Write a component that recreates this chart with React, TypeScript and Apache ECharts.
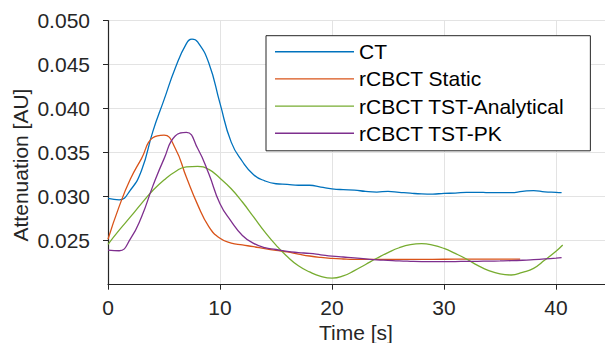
import React, { useEffect, useRef } from "react";
import * as echarts from "echarts";

const seriesNames = ["CT", "rCBCT Static", "rCBCT TST-Analytical", "rCBCT TST-PK"];
const seriesColors = ["#0072BD", "#D95319", "#77AC30", "#7E2F8E"];

const ctTime = [0, 1, 2, 3, 4, 5, 6, 7, 7.5, 8, 9, 10, 11, 12, 13, 14, 15, 16, 17, 18, 19, 20, 21, 22, 23, 24, 25, 26, 27, 28, 29, 30, 31, 32, 33, 34, 35, 36, 37, 38, 39, 40, 40.5];
const ctValues = [0.0298, 0.02965, 0.03075, 0.033, 0.0374, 0.041, 0.0446, 0.0474, 0.0479, 0.0476, 0.0452, 0.0406, 0.0362, 0.0340, 0.0325, 0.0318, 0.03147, 0.0314, 0.0313, 0.0313, 0.0311, 0.0309, 0.0308, 0.03075, 0.0306, 0.03053, 0.0306, 0.0305, 0.0304, 0.03032, 0.0303, 0.03038, 0.0304, 0.0305, 0.0305, 0.03046, 0.03046, 0.03046, 0.0306, 0.0307, 0.03055, 0.0305, 0.03046];

const staticTime = [0, 1, 2, 3, 4, 5, 6, 7, 8, 9, 10, 11, 12, 13, 14, 15, 16, 17, 18, 19, 20, 21, 22, 24, 26, 28, 30, 32, 34, 36, 36.8];
const staticValues = [0.02516, 0.0289, 0.032, 0.03436, 0.0367, 0.037, 0.0355, 0.0322, 0.0291, 0.0266, 0.02527, 0.02473, 0.02452, 0.02432, 0.0241, 0.0239, 0.02372, 0.02348, 0.02326, 0.0231, 0.02299, 0.02292, 0.02288, 0.02287, 0.02287, 0.02288, 0.02289, 0.0229, 0.0229, 0.0229, 0.0229];

const analyticalTime = [0, 1, 2, 3, 4, 5, 6, 7, 8, 9, 10, 11, 12, 13, 14, 15, 16, 17, 18, 19, 20, 21, 22, 23, 24, 25, 26, 27, 28, 29, 30, 31, 32, 33, 34, 35, 36, 37, 38, 39, 40, 40.6];
const analyticalValues = [0.02459, 0.0262, 0.0277, 0.02925, 0.0307, 0.0319, 0.03284, 0.0334, 0.03345, 0.0331, 0.0321, 0.0309, 0.0294, 0.0277, 0.026, 0.0245, 0.0232, 0.02215, 0.02145, 0.02095, 0.02075, 0.021, 0.0216, 0.0223, 0.023, 0.02365, 0.0242, 0.02455, 0.02466, 0.0245, 0.02412, 0.02355, 0.02292, 0.0222, 0.0216, 0.02122, 0.0211, 0.0214, 0.02186, 0.0228, 0.0238, 0.02451];

const pkTime = [0, 1, 2, 3, 4, 5, 6, 7, 8, 9, 10, 11, 12, 13, 14, 15, 16, 17, 18, 19, 20, 21, 22, 23, 24, 25, 26, 27, 28, 29, 30, 31, 32, 33, 34, 35, 36, 37, 38, 39, 40, 40.5];
const pkValues = [0.02394, 0.02386, 0.0252, 0.02773, 0.0312, 0.0343, 0.0369, 0.0373, 0.0355, 0.0326, 0.0292, 0.0272, 0.0256, 0.0247, 0.0242, 0.024, 0.02378, 0.02365, 0.02355, 0.0234, 0.02325, 0.02315, 0.02305, 0.02293, 0.02282, 0.02276, 0.0227, 0.02266, 0.02263, 0.02262, 0.02262, 0.02263, 0.02265, 0.02266, 0.02268, 0.0227, 0.02273, 0.02278, 0.02285, 0.02293, 0.02302, 0.02307];

const xTicks = [0, 10, 20, 30, 40];
const yTicks = [0.025, 0.03, 0.035, 0.04, 0.045, 0.05];

const FONT = '"Liberation Sans", Arial, Helvetica, sans-serif';

export default function App() {
  const ref = useRef<HTMLDivElement>(null);
  useEffect(() => {
    if (!ref.current) return;
    const chart = echarts.init(ref.current, undefined, { renderer: "svg" });
    const allTimes = [ctTime, staticTime, analyticalTime, pkTime];
    const allValues = [ctValues, staticValues, analyticalValues, pkValues];
    chart.setOption({
      animation: false,
      backgroundColor: "#ffffff",
      textStyle: { fontFamily: FONT },
      grid: { left: 108, right: -7, top: 20.7, bottom: 58.3, containLabel: false, outerBoundsMode: "none" },
      legend: {
        data: seriesNames,
        orient: "vertical",
        left: 266,
        top: 35.7,
        icon: "rect",
        itemWidth: 79,
        itemHeight: 1.4,
        itemGap: 6.2,
        padding: [5.5, 26, 7, 9],
        borderColor: "#262626",
        borderWidth: 1,
        backgroundColor: "#ffffff",
        textStyle: { fontSize: 21, lineHeight: 21, color: "#000000", fontFamily: FONT },
      },
      graphic: [
        {
          type: "text",
          x: 20.5,
          y: 165,
          rotation: Math.PI / 2,
          style: {
            text: "Attenuation [AU]",
            fontSize: 21,
            fontFamily: FONT,
            fill: "#262626",
            align: "center",
            verticalAlign: "middle",
          },
        },
      ],
      xAxis: {
        type: "value",
        min: 0,
        max: 45,
        interval: 10,
        name: "Time [s]",
        nameLocation: "middle",
        nameGap: 37.5,
        nameTextStyle: { fontSize: 21, color: "#262626", fontFamily: FONT, padding: [0, 8, 0, 0] },
        axisLine: { show: true, lineStyle: { color: "#262626", width: 1.2 } },
        axisTick: { show: true, length: 5, lineStyle: { color: "#262626" }, inside: false },
        axisLabel: {
          fontSize: 21,
          color: "#262626",
          margin: 11.8,
          showMaxLabel: false,
          formatter: (v: number) => (xTicks.includes(v) ? String(v) : ""),
        },
        splitLine: { show: true, lineStyle: { color: "#e3e3e3", width: 1 } },
      },
      yAxis: {
        type: "value",
        min: 0.02,
        max: 0.05,
        interval: 0.005,
        axisLine: { show: true, lineStyle: { color: "#262626", width: 1.2 } },
        axisTick: { show: true, length: 5, lineStyle: { color: "#262626" } },
        axisLabel: {
          fontSize: 21,
          color: "#262626",
          margin: 18,
          showMinLabel: false,
          formatter: (v: number) => {
            const hit = yTicks.find((t) => Math.abs(t - v) < 1e-9);
            return hit !== undefined ? hit.toFixed(3) : "";
          },
        },
        splitLine: { show: true, lineStyle: { color: "#e3e3e3", width: 1 } },
      },
      series: seriesNames.map((name, i) => ({
        name,
        type: "line",
        smooth: 0.5,
        symbol: "none",
        showSymbol: false,
        color: seriesColors[i],
        lineStyle: { color: seriesColors[i], width: 1.3 },
        data: allTimes[i].map((t, j) => [t, allValues[i][j]]),
      })),
    });
    return () => chart.dispose();
  }, []);
  return (
    <div
      ref={ref}
      style={{ position: "absolute", left: 0, top: 0, width: 605, height: 343 }}
    />
  );
}
